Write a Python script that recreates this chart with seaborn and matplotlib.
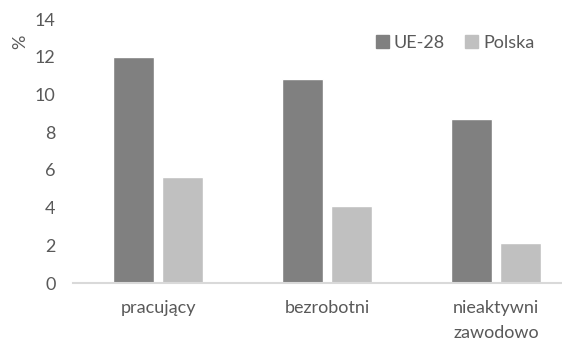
import matplotlib
matplotlib.use("Agg")
import matplotlib.pyplot as plt
import seaborn as sns
import pandas as pd

categories = ["pracujący", "bezrobotni", "nieaktywni\nzawodowo"]
series = ["UE-28", "Polska"]
ue28 = [12.0, 10.8, 8.7]
polska = [5.6, 4.1, 2.1]
yticks = [0, 2, 4, 6, 8, 10, 12, 14]

df = pd.DataFrame({
    "kategoria": categories * 2,
    "seria": [series[0]] * 3 + [series[1]] * 3,
    "wartosc": ue28 + polska,
})

sns.set_theme(style="white")
plt.rcParams["font.family"] = ["Lato", "DejaVu Sans"]
text_color = "#595959"
fs = 13

W, H = 562, 345
fig = plt.figure(figsize=(W / 100, H / 100), dpi=100)
ax = fig.add_axes([73.5 / W, 1 - 283 / H, 507 / W, (283 - 19) / H])

sns.barplot(
    data=df, x="kategoria", y="wartosc", hue="seria",
    palette={"UE-28": "#808080", "Polska": "#C0C0C0"},
    width=0.58, gap=0.16, ax=ax, legend=False, saturation=1,
)

ax.set_xlim(-0.5, 2.5)
ax.set_ylim(0, 14)
ax.set_yticks(yticks)
ax.set_xlabel("")
ax.set_ylabel("")
for s in ["top", "right", "left"]:
    ax.spines[s].set_visible(False)
ax.spines["bottom"].set_color("#d9d9d9")
ax.spines["bottom"].set_linewidth(1.5)
ax.tick_params(axis="y", length=0, pad=13, labelsize=fs, labelcolor=text_color)
ax.tick_params(axis="x", length=0, pad=12, labelsize=fs, labelcolor=text_color)
for lbl in ax.get_xticklabels():
    lbl.set_linespacing(1.75)

fig.text(20 / W, 1 - 42 / H, "%", rotation=90, ha="center", va="center",
         fontsize=fs, color=text_color)

handles = [plt.Rectangle((0, 0), 1, 1, color=c) for c in ["#808080", "#C0C0C0"]]
leg = fig.legend(handles, series, ncol=2, frameon=False, loc="center",
                 bbox_to_anchor=(455 / W, 1 - 43 / H),
                 handlelength=0.75, handleheight=0.75, handletextpad=0.25,
                 columnspacing=1.1, fontsize=fs)
for t in leg.get_texts():
    t.set_color(text_color)

fig.savefig("out.png", dpi=100)
